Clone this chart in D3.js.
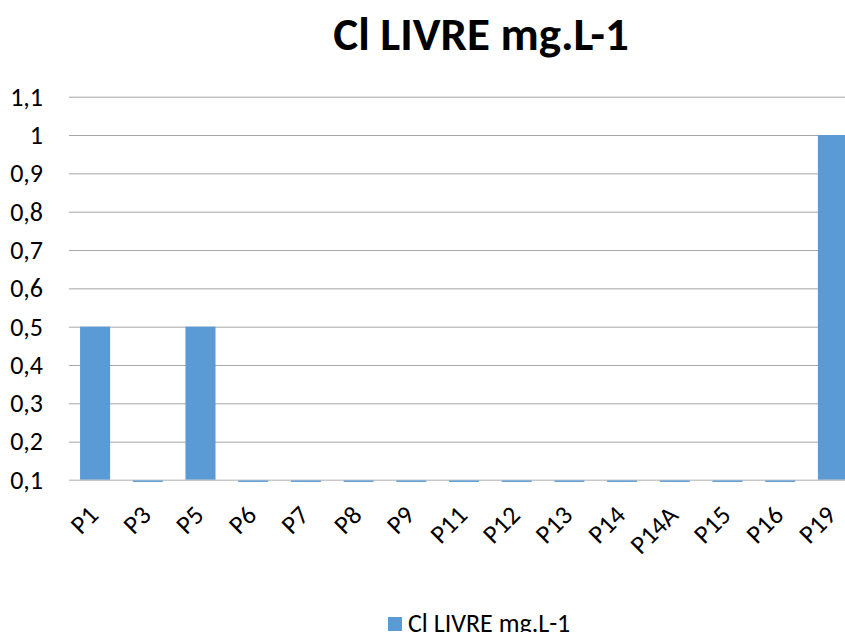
<!DOCTYPE html>
<html><head><meta charset="utf-8">
<script src="https://cdn.jsdelivr.net/npm/d3@7"></script>
<style>body{margin:0;background:#fff}svg{display:block}text{font-family:Carlito,Calibri,"Open Sans","Liberation Sans",sans-serif}</style>
</head><body><svg id="c" width="845" height="632"></svg>
<script>
const categories = ["P1","P3","P5","P6","P7","P8","P9","P11","P12","P13","P14","P14A","P15","P16","P19"];
const values = [0.5,0.095,0.5,0.095,0.095,0.095,0.095,0.095,0.095,0.095,0.095,0.095,0.095,0.095,1];
const yTicks = [0.1,0.2,0.3,0.4,0.5,0.6,0.7,0.8,0.9,1,1.1];
const title = "Cl LIVRE mg.L-1";
const seriesName = "Cl LIVRE mg.L-1";

const svg = d3.select("#c");
const x = d3.scaleBand().domain(categories).range([69, 859]).paddingInner(0.43).paddingOuter(0.21);
const y = d3.scaleLinear().domain([0.1, 1.1]).range([480, 96.7]);
const fmt = v => String(Math.round(v*10)/10).replace(".", ",");

svg.append("text").attr("x", 481).attr("y", 50).attr("text-anchor","middle")
  .attr("font-size", 47).attr("font-weight","bold").text(title);

// grid
const ga = svg.append("g").attr("transform","translate(69,0)")
  .call(d3.axisLeft(y).tickValues(yTicks).tickSize(-790).tickFormat(fmt).tickPadding(26));
ga.select(".domain").remove();
ga.selectAll(".tick line").attr("stroke","#a6a6a6").attr("stroke-width",1);
ga.selectAll(".tick text").attr("font-size",26).attr("fill","#000");
ga.selectAll(".tick").filter(d => d === 0.1).select("line").attr("stroke","#c8c8c8");

// bars
svg.append("g").selectAll("rect").data(values).join("rect")
  .attr("x", (d,i) => x(categories[i]))
  .attr("width", x.bandwidth())
  .attr("y", d => Math.min(y(d), y(0.1)))
  .attr("height", d => Math.abs(y(0.1) - y(d)))
  .attr("fill", "#5b9bd5");

// x axis line
svg.append("line").attr("x1",69).attr("x2",859).attr("y1",y(0.1)).attr("y2",y(0.1))
  .attr("stroke","#c8c8c8");

// x labels
svg.append("g").selectAll("g").data(categories).join("g")
  .attr("transform", d => `translate(${x(d) + x.bandwidth()/2 - 7},${y(0.1) + 25}) rotate(-45)`)
  .append("text").attr("text-anchor","end").attr("dy","0.64em")
  .attr("font-size",26).attr("fill","#000").text(d => d);

// legend
const lg = svg.append("g").attr("transform","translate(388,632)");
lg.append("rect").attr("width",14).attr("height",14).attr("y",-15).attr("fill","#5b9bd5");
lg.append("text").attr("x",20).attr("y",0).attr("font-size",26).text(seriesName);
</script></body></html>
